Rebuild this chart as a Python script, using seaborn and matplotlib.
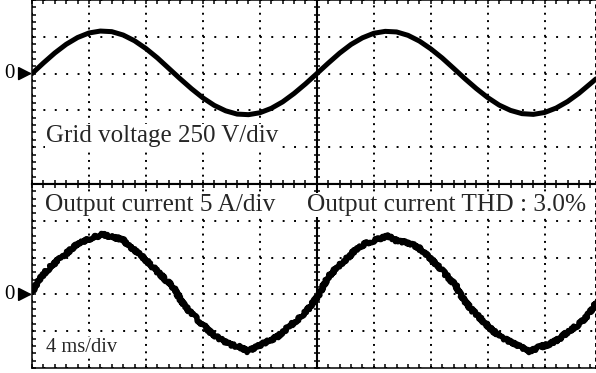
import matplotlib
matplotlib.use("Agg")
import matplotlib.pyplot as plt
import seaborn as sns
import pandas as pd
from matplotlib.ticker import MultipleLocator, NullFormatter

# ---------------- data ----------------
time_per_div_ms = 4
volt_per_div = 250
amp_per_div = 5

voltage_time_ms = [0.0, 0.8, 1.6, 2.4, 3.2, 4.0, 4.8, 5.6, 6.4, 7.2,
                   8.0, 8.8, 9.6, 10.4, 11.2, 12.0, 12.8, 13.6, 14.4, 15.2,
                   16.0, 16.8, 17.6, 18.4, 19.2, 20.0, 20.8, 21.6, 22.4, 23.2,
                   24.0, 24.8, 25.6, 26.4, 27.2, 28.0, 28.8, 29.6, 30.4, 31.2,
                   32.0, 32.8, 33.6, 34.4, 35.2, 36.0, 36.8, 37.6, 38.4, 39.2, 39.6]
grid_voltage_V = [0, 72, 140, 199, 245, 276, 289, 285, 262, 223,
                  170, 107, 36, -35, -103, -165, -216, -253, -275, -279,
                  -266, -236, -192, -135, -70, 0, 71, 139, 198, 243,
                  274, 287, 283, 260, 221, 168, 106, 36, -35, -102,
                  -163, -214, -250, -272, -277, -264, -234, -190, -134, -69, -36]

current_time_ms = [0.0, 0.77, 1.48, 2.18, 2.89, 3.59, 4.29, 5.0, 5.70, 6.34,
                   6.90, 7.81, 8.52, 9.22, 9.93, 10.42, 11.12, 11.83, 12.53, 13.24,
                   13.94, 14.65, 15.14, 15.85, 16.55, 17.25, 17.96, 18.66, 19.37, 20.07,
                   20.77, 21.48, 22.18, 22.89, 23.59, 24.30, 25.0, 25.70, 26.41, 27.11,
                   27.82, 28.52, 29.23, 29.79, 30.14, 30.85, 31.55, 32.25, 32.96, 33.66,
                   34.37, 34.93, 35.56, 36.27, 36.97, 37.68, 38.38, 39.08, 39.65]
output_current_A = [0.4, 2.7, 4.1, 5.15, 6.4, 7.2, 7.75, 8.15, 7.75, 7.5,
                    6.5, 5.0, 3.65, 2.3, 0.95, -0.7, -2.45, -3.8, -5.15, -6.1,
                    -6.8, -7.2, -7.75, -7.05, -6.4, -5.7, -4.5, -3.4, -2.05, -0.25,
                    2.3, 3.8, 5.0, 6.4, 7.05, 7.5, 7.9, 7.2, 7.05, 6.4,
                    5.15, 3.8, 2.3, 1.1, -0.25, -2.05, -3.4, -4.75, -5.85, -6.5,
                    -7.2, -7.75, -7.2, -6.8, -6.1, -5.0, -4.1, -2.7, -1.1]

label_voltage = "Grid voltage 250 V/div"
label_current = "Output current 5 A/div"
label_thd = "Output current THD : 3.0%"
label_time = "4 ms/div"

# ---------------- style ----------------
sns.set_theme(style="white")
plt.rcParams["font.family"] = ["Liberation Serif", "DejaVu Serif"]

W, H = 596, 373
fig = plt.figure(figsize=(W / 100, H / 100), dpi=100)
fig.patch.set_facecolor("white")

left_px, right_px, top_px, mid_px, bot_px = 32, 596, 0, 184, 368
ax_v = fig.add_axes([left_px / W, 1 - mid_px / H, (right_px - left_px) / W, (mid_px - top_px) / H])
ax_i = fig.add_axes([left_px / W, 1 - bot_px / H, (right_px - left_px) / W, (bot_px - mid_px) / H])

x_max = 39.6
panels = [
    (ax_v, volt_per_div, (-3 * volt_per_div, 2 * volt_per_div)),
    (ax_i, amp_per_div, (-2 * amp_per_div, 3 * amp_per_div)),
]

def dash(period_pt, lw):
    return (0, (1, period_pt / lw - 1))

for ax, per_div, ylim in panels:
    ax.set_xlim(0, x_max)
    ax.set_ylim(*ylim)
    ax.set_facecolor("white")
    ax.xaxis.set_major_locator(MultipleLocator(time_per_div_ms))
    ax.xaxis.set_minor_locator(MultipleLocator(time_per_div_ms / 5))
    ax.yaxis.set_major_locator(MultipleLocator(per_div))
    ax.yaxis.set_minor_locator(MultipleLocator(per_div / 5))
    ax.xaxis.set_major_formatter(NullFormatter())
    ax.yaxis.set_major_formatter(NullFormatter())
    ax.tick_params(which="both", direction="in", length=3, width=1.1, color="black",
                   top=True, bottom=True, left=True, right=False,
                   labelbottom=False, labelleft=False)
    gw = 1.4
    px_per_div_y = (mid_px - top_px) / 5
    px_per_div_x = (right_px - left_px) / x_max * time_per_div_ms
    ax.xaxis.grid(True, which="major", color="black", linewidth=gw,
                  linestyle=dash(px_per_div_y / 5 * 0.72, gw))
    ax.yaxis.grid(True, which="major", color="black", linewidth=gw,
                  linestyle=dash(px_per_div_x / 5 * 0.72, gw))
    ax.set_axisbelow(True)
    for s in ("left", "top", "bottom"):
        ax.spines[s].set_color("black")
        ax.spines[s].set_linewidth(1.1)
        ax.spines[s].set_visible(True)
    ax.spines["right"].set_visible(True)
    ax.spines["right"].set_color("black")
    ax.spines["right"].set_linewidth(gw)
    ax.spines["right"].set_linestyle(dash(px_per_div_y / 5 * 0.72, gw))

    # solid centre vertical line with cross ticks
    sec = ax.secondary_yaxis((x_max / 2 + 0.2) / x_max)
    sec.yaxis.set_major_locator(MultipleLocator(per_div))
    sec.yaxis.set_minor_locator(MultipleLocator(per_div / 5))
    sec.yaxis.set_major_formatter(NullFormatter())
    sec.tick_params(which="both", direction="inout", length=5, width=1.1, color="black",
                    labelleft=False, labelright=False)
    for s in sec.spines.values():
        s.set_color("black")
        s.set_linewidth(1.5)

ax_v.spines["bottom"].set_linewidth(1.5)
ax_i.spines["top"].set_linewidth(1.5)

# ---------------- traces ----------------
df_v = pd.DataFrame({"t": voltage_time_ms, "v": grid_voltage_V})
df_i = pd.DataFrame({"t": current_time_ms, "i": output_current_A})
sns.lineplot(data=df_v, x="t", y="v", ax=ax_v, color="black", linewidth=3.6,
             estimator=None, sort=False, zorder=5)
sns.lineplot(data=df_i, x="t", y="i", ax=ax_i, color="black", linewidth=4.0,
             estimator=None, sort=False, zorder=5)
ax_i.lines[-1].set_sketch_params(scale=1.4, length=1.6, randomness=6)
for ax in (ax_v, ax_i):
    ax.set_xlabel("")
    ax.set_ylabel("")
    ax.set_xlim(0, x_max)

# zero markers
for ax in (ax_v, ax_i):
    ax.annotate("0", xy=(0, 0), xycoords="data", xytext=(-16, 0), textcoords="offset points",
                ha="center", va="center", fontsize=15, color="black", annotation_clip=False,
                arrowprops=dict(arrowstyle="-|>,head_length=0.55,head_width=0.28", color="black",
                                lw=1.2, shrinkA=1, shrinkB=0))

# ---------------- labels ----------------
box = dict(facecolor="white", edgecolor="none", pad=1.0)
fig.text(46 / W, 1 - 142 / H, label_voltage, fontsize=18, va="baseline", ha="left", bbox=box, zorder=10)
fig.text(45 / W, 1 - 211 / H, label_current, fontsize=18.3, va="baseline", ha="left", bbox=box, zorder=10)
fig.text(307 / W, 1 - 211 / H, label_thd, fontsize=18.3, va="baseline", ha="left", bbox=box, zorder=10)
fig.text(46 / W, 1 - 352 / H, label_time, fontsize=14.8, va="baseline", ha="left", bbox=box, zorder=10)

fig.savefig("out.png", dpi=100, facecolor="white")
